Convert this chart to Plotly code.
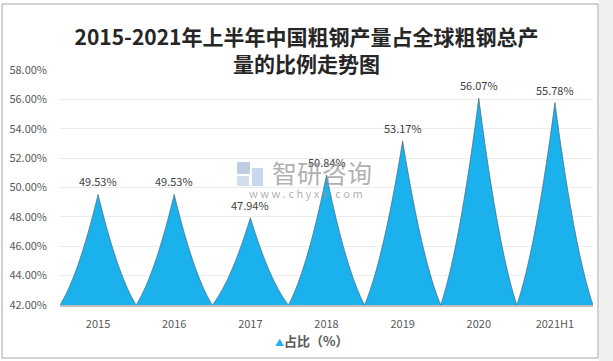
import plotly.graph_objects as go
import numpy as np

categories = ["2015", "2016", "2017", "2018", "2019", "2020", "2021H1"]
share_pct = [49.53, 49.53, 47.94, 50.84, 53.17, 56.07, 55.78]
series_name = "占比（%）"
title_text = "2015-2021年上半年中国粗钢产量占全球粗钢总产<br>量的比例走势图"
y_ticks = [42, 44, 46, 48, 50, 52, 54, 56, 58]

BASE = 42
FILL = "#1BB1EC"
W, H = 613, 361
L, R, T, B = 60, 20, 70, 56
PW, PH = W - L - R, H - T - B

def px(xp):
    return (xp - L) / PW

def py(yp):
    return (H - B - yp) / PH

fig = go.Figure()

# concave spike outline: quadratic bezier from base corner to apex
t = np.linspace(0, 1, 80)
CX, CY = -0.2545, 0.273
bx = (1 - t) ** 2 * (-0.5) + 2 * t * (1 - t) * CX          # offset from centre
bf = 2 * t * (1 - t) * CY + t ** 2                          # fraction of height
for i, v in enumerate(share_pct):
    h = v - BASE
    xs = np.concatenate([i + bx, (i - bx)[::-1]])
    ys = np.concatenate([BASE + bf * h, (BASE + bf * h)[::-1]])
    fig.add_trace(go.Scatter(
        x=xs, y=ys, mode="lines", fill="toself", fillcolor=FILL,
        line=dict(color="rgba(70,95,115,0.85)", width=0.8, simplify=False),
        showlegend=False, hoverinfo="skip"))

font_fam = "Microsoft YaHei, Noto Sans CJK SC, sans-serif"

# data labels
for i, v in enumerate(share_pct):
    fig.add_annotation(x=i, y=v, text=f"{v:.2f}%", showarrow=False,
                       yanchor="bottom", yshift=3,
                       font=dict(size=11, color="#404040", family=font_fam))

# legend (manual)
fig.add_annotation(xref="paper", yref="paper", x=px(273), y=py(340),
                   xanchor="left", yanchor="middle", showarrow=False,
                   text=f"<span style='color:{FILL};font-size:9px'>▲</span>"
                        f"<b>{series_name}</b>",
                   font=dict(size=13, color="#595959", family=font_fam))

# watermark
fig.add_annotation(xref="paper", yref="paper", x=px(322), y=py(172),
                   text="智研咨询", showarrow=False,
                   font=dict(size=25, color="rgba(150,150,150,0.75)", family=font_fam))
fig.add_annotation(xref="paper", yref="paper", x=px(306), y=py(193),
                   text="w w w . c h y x x . c o m", showarrow=False,
                   font=dict(size=11, color="rgba(150,150,150,0.75)", family=font_fam))

shapes = []
# watermark logo (approximate)
shapes.append(dict(type="rect", xref="paper", yref="paper",
                   x0=px(237), x1=px(250), y0=py(174), y1=py(162),
                   line=dict(width=0), fillcolor="rgba(175,192,218,0.8)"))
shapes.append(dict(type="rect", xref="paper", yref="paper",
                   x0=px(237), x1=px(249), y0=py(186), y1=py(176),
                   line=dict(width=0), fillcolor="rgba(200,212,230,0.8)"))
shapes.append(dict(type="rect", xref="paper", yref="paper",
                   x0=px(252), x1=px(263), y0=py(186), y1=py(168),
                   line=dict(width=0), fillcolor="rgba(185,205,232,0.8)"))
# outer frame
shapes.append(dict(type="rect", xref="paper", yref="paper",
                   x0=px(2), x1=px(598), y0=py(358), y1=py(4),
                   line=dict(color="#a6a6a6", width=1), fillcolor="rgba(0,0,0,0)",
                   layer="below"))
shapes.append(dict(type="rect", xref="paper", yref="paper",
                   x0=px(599), x1=px(614), y0=py(362), y1=py(-1),
                   line=dict(width=0), fillcolor="#f0f0f0", layer="below"))

fig.update_layout(
    width=W, height=H,
    margin=dict(l=L, r=R, t=T, b=B, autoexpand=False),
    paper_bgcolor="white", plot_bgcolor="white",
    shapes=shapes,
    title=dict(text=title_text, x=0.5, xanchor="center",
               y=1 - 45 / H, yanchor="middle", yref="container",
               font=dict(size=21, color="#262626", family=font_fam, weight="bold")),
    showlegend=False,
    xaxis=dict(range=[-0.5, len(categories) - 0.5],
               tickmode="array", tickvals=list(range(len(categories))),
               ticktext=categories, showgrid=False, zeroline=False,
               showline=True, linecolor="#bfbfbf", linewidth=2,
               ticks="", ticklabelstandoff=8, automargin=False,
               tickfont=dict(size=11, color="#595959", family=font_fam)),
    yaxis=dict(range=[42, 58], tickmode="array", tickvals=y_ticks,
               ticktext=[f"{t:.2f}%" for t in y_ticks],
               showgrid=True, gridcolor="#ececec", gridwidth=1,
               zeroline=False, showline=False, ticks="",
               ticklabelstandoff=12, automargin=False,
               tickfont=dict(size=11, color="#595959", family=font_fam)),
    hovermode=False,
)

fig.write_html("out.html", config={"displayModeBar": False},
               post_script="document.body.style.margin='0';")
